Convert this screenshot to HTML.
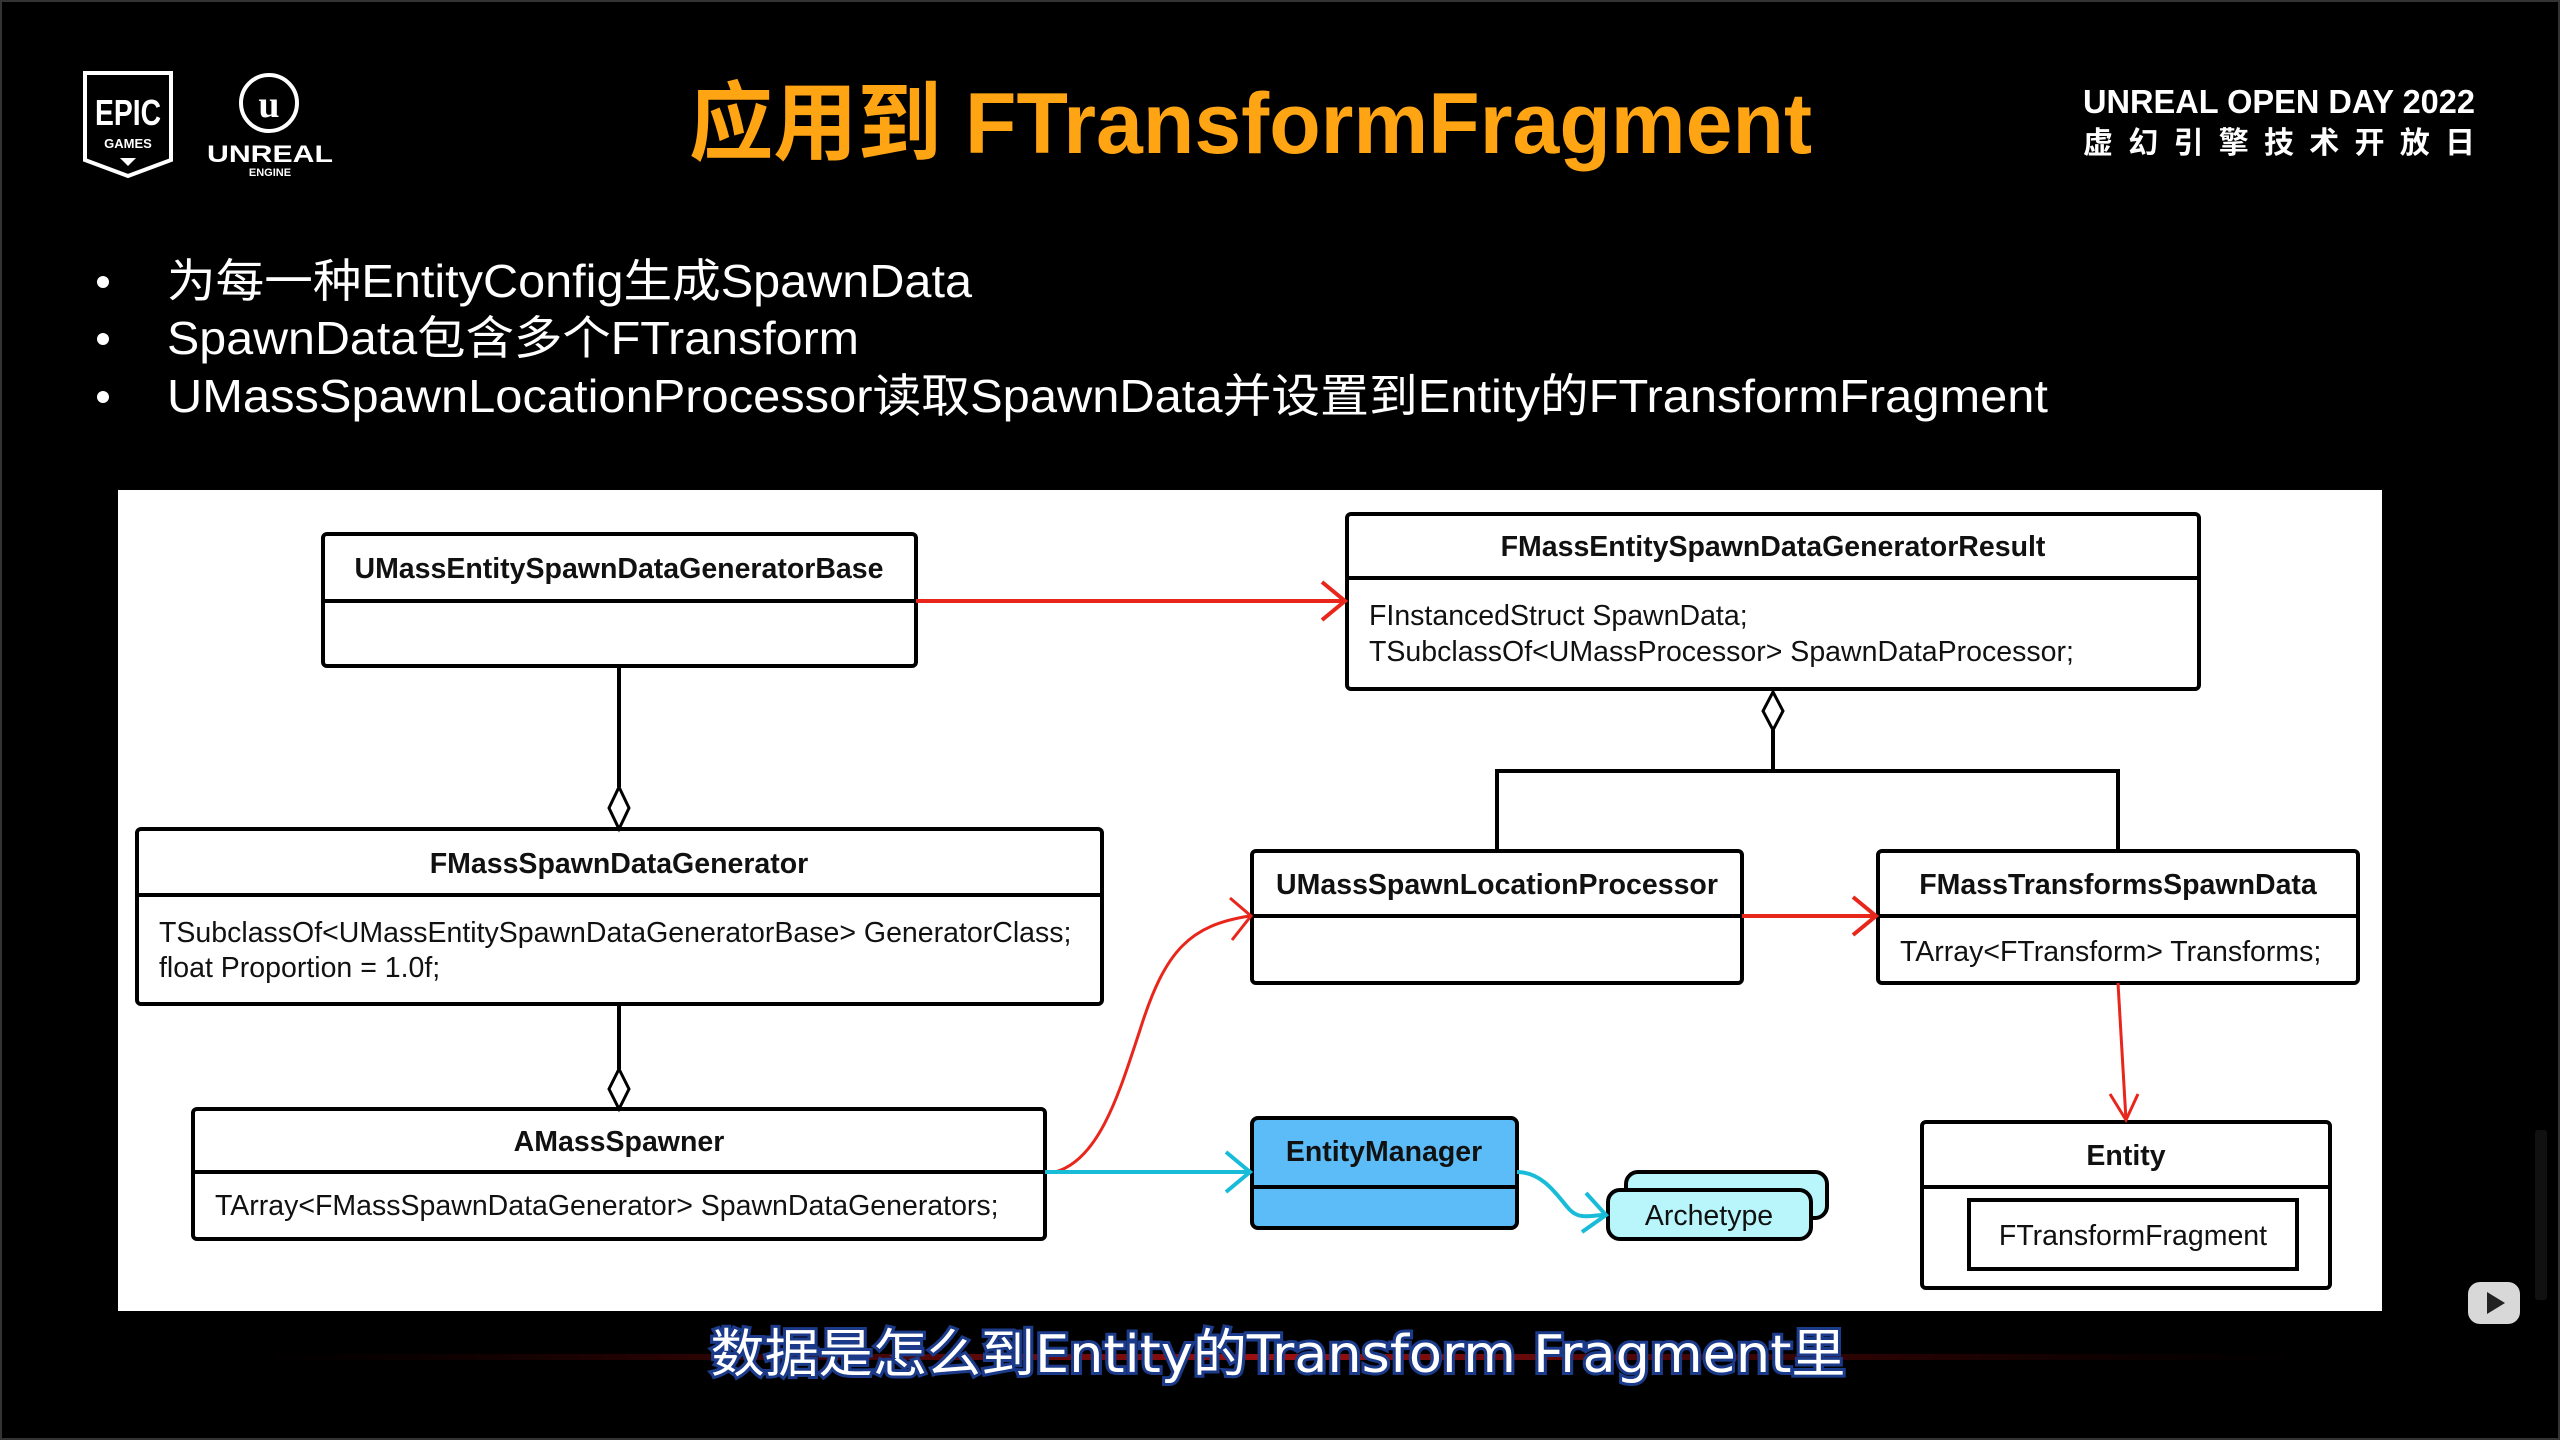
<!DOCTYPE html>
<html><head><meta charset="utf-8"><style>
html,body{margin:0;padding:0;background:#000;width:2560px;height:1440px;overflow:hidden}
svg{display:block}
</style></head><body>
<svg width="2560" height="1440" viewBox="0 0 2560 1440" xmlns="http://www.w3.org/2000/svg">
<defs>
<linearGradient id="rl" x1="0" x2="1"><stop offset="0" stop-color="#300" stop-opacity="0"/><stop offset="0.5" stop-color="#a01010"/><stop offset="1" stop-color="#300" stop-opacity="0"/></linearGradient>
</defs>
<rect width="2560" height="1440" fill="#000"/>
<rect x="1" y="1" width="2558" height="1438" fill="none" stroke="#333" stroke-width="2"/>
<path d="M85 73 H171 V160 L128 176 L85 160 Z" fill="none" stroke="#fff" stroke-width="4"/>
<text x="128" y="125" fill="#fff" font-family="Liberation Sans, sans-serif" font-weight="bold" font-size="36" text-anchor="middle" textLength="66" lengthAdjust="spacingAndGlyphs">EPIC</text>
<text x="128" y="148" fill="#fff" font-family="Liberation Sans, sans-serif" font-weight="bold" font-size="13" text-anchor="middle">GAMES</text>
<path d="M120 158 L136 158 L128 166 Z" fill="#fff"/>
<circle cx="269" cy="103" r="28" fill="none" stroke="#fff" stroke-width="4"/>
<text x="269" y="117" fill="#fff" font-family="Liberation Serif, serif" font-weight="bold" font-size="38" text-anchor="middle">u</text>
<text x="270" y="162" fill="#fff" font-family="Liberation Sans, sans-serif" font-weight="bold" font-size="24" text-anchor="middle" textLength="126" lengthAdjust="spacingAndGlyphs">UNREAL</text>
<text x="270" y="176" fill="#fff" font-family="Liberation Sans, sans-serif" font-weight="bold" font-size="11" text-anchor="middle">ENGINE</text>
<text x="689" y="153" fill="#ffa412" font-family="Liberation Sans, 'Noto Sans CJK SC', sans-serif" font-weight="bold" font-size="86" textLength="1123" lengthAdjust="spacingAndGlyphs">应用到 FTransformFragment</text>
<text x="2083" y="113" fill="#fff" font-family="Liberation Sans, sans-serif" font-weight="bold" font-size="33" textLength="392" lengthAdjust="spacingAndGlyphs">UNREAL OPEN DAY 2022</text>
<text x="2083" y="153" fill="#fff" font-family="'Noto Sans CJK SC', sans-serif" font-weight="bold" font-size="30" textLength="392" lengthAdjust="spacing">虚幻引擎技术开放日</text>
<g fill="#fff" font-family="Liberation Sans, 'Noto Sans CJK SC', sans-serif" font-size="46">
<circle cx="103" cy="282" r="6"/><circle cx="103" cy="339" r="6"/><circle cx="103" cy="397" r="6"/>
<text x="167" y="297" textLength="805" lengthAdjust="spacingAndGlyphs">为每一种EntityConfig生成SpawnData</text>
<text x="167" y="354" textLength="692" lengthAdjust="spacingAndGlyphs">SpawnData包含多个FTransform</text>
<text x="167" y="412" textLength="1881" lengthAdjust="spacingAndGlyphs">UMassSpawnLocationProcessor读取SpawnData并设置到Entity的FTransformFragment</text>
</g>
<rect x="118" y="490" width="2264" height="821" fill="#fff"/>
<g stroke="#000" stroke-width="4" fill="#fff">
<rect x="323" y="534" width="593" height="132" rx="4"/><line x1="323" y1="601" x2="916" y2="601"/>
<rect x="1347" y="514" width="852" height="175" rx="4"/><line x1="1347" y1="578" x2="2199" y2="578"/>
<rect x="137" y="829" width="965" height="175" rx="4"/><line x1="137" y1="895" x2="1102" y2="895"/>
<rect x="193" y="1109" width="852" height="130" rx="4"/><line x1="193" y1="1172" x2="1045" y2="1172"/>
<rect x="1252" y="851" width="490" height="132" rx="4"/><line x1="1252" y1="916" x2="1742" y2="916"/>
<rect x="1878" y="851" width="480" height="132" rx="4"/><line x1="1878" y1="916" x2="2358" y2="916"/>
<rect x="1252" y="1118" width="265" height="110" rx="6" fill="#5cbcf8"/><line x1="1252" y1="1187" x2="1517" y2="1187"/>
<rect x="1626" y="1172" width="201" height="46" rx="12" fill="#b8f6fc"/>
<rect x="1608" y="1190" width="203" height="49" rx="12" fill="#b8f6fc"/>
<rect x="1922" y="1122" width="408" height="166" rx="4"/><line x1="1922" y1="1187" x2="2330" y2="1187"/>
<rect x="1969" y="1200" width="328" height="69"/>
<line x1="619" y1="666" x2="619" y2="787" fill="none"/>
<line x1="619" y1="1004" x2="619" y2="1069" fill="none"/>
<polyline points="1773,730 1773,771 1497,771 1497,851" fill="none"/>
<polyline points="1773,771 2118,771 2118,851" fill="none"/>
</g>
<g stroke="#000" stroke-width="3" fill="#fff">
<path d="M619 787 L629 808 L619 829 L609 808 Z"/>
<path d="M619 1069 L629 1089 L619 1109 L609 1089 Z"/>
<path d="M1773 692 L1783 711 L1773 730 L1763 711 Z"/>
</g>
<g stroke="#e8261c" fill="none">
<line x1="916" y1="601" x2="1345" y2="601" stroke-width="4"/>
<polyline points="1322,582 1345,601 1322,620" stroke-width="4"/>
<line x1="1742" y1="916" x2="1876" y2="916" stroke-width="4"/>
<polyline points="1853,897 1876,916 1853,935" stroke-width="4"/>
<path d="M2118 983 L2126 1120" stroke-width="3"/>
<polyline points="2110,1094 2126,1120 2138,1094" stroke-width="3"/>
<path d="M1055 1172 C1100 1160 1120 1090 1140 1030 C1165 950 1190 925 1250 916" stroke-width="3"/>
<polyline points="1230,898 1251,916 1232,940" stroke-width="3"/>
</g>
<g stroke="#18bcd8" fill="none" stroke-width="4">
<line x1="1045" y1="1172" x2="1250" y2="1172"/>
<polyline points="1226,1152 1250,1172 1226,1192"/>
<path d="M1517 1172 C1545 1172 1560 1200 1570 1210 C1580 1220 1590 1215 1606 1215"/>
<polyline points="1586,1193 1606,1215 1582,1232"/>
</g>
<g font-family="Liberation Sans, sans-serif" font-size="28.5" fill="#111">
<g font-weight="bold" text-anchor="middle">
<text x="619" y="578">UMassEntitySpawnDataGeneratorBase</text>
<text x="1773" y="556">FMassEntitySpawnDataGeneratorResult</text>
<text x="619" y="873">FMassSpawnDataGenerator</text>
<text x="619" y="1151">AMassSpawner</text>
<text x="1497" y="894">UMassSpawnLocationProcessor</text>
<text x="2118" y="894">FMassTransformsSpawnData</text>
<text x="1384" y="1161">EntityManager</text>
<text x="2126" y="1165">Entity</text>
</g>
<text x="1369" y="625">FInstancedStruct SpawnData;</text>
<text x="1369" y="661">TSubclassOf&lt;UMassProcessor&gt; SpawnDataProcessor;</text>
<text x="159" y="942">TSubclassOf&lt;UMassEntitySpawnDataGeneratorBase&gt; GeneratorClass;</text>
<text x="159" y="977">float Proportion = 1.0f;</text>
<text x="215" y="1215">TArray&lt;FMassSpawnDataGenerator&gt; SpawnDataGenerators;</text>
<text x="1900" y="961">TArray&lt;FTransform&gt; Transforms;</text>
<text x="1709" y="1225" text-anchor="middle">Archetype</text>
<text x="2133" y="1245" text-anchor="middle">FTransformFragment</text>
</g>
<rect x="250" y="1354" width="2060" height="6" fill="url(#rl)"/>
<text x="1278" y="1372" text-anchor="middle" fill="#fff" stroke="#1b3a8a" stroke-width="6" paint-order="stroke" font-family="'DejaVu Sans', 'Noto Sans CJK SC', sans-serif" font-size="52" textLength="1135" lengthAdjust="spacingAndGlyphs">数据是怎么到Entity的Transform Fragment里</text>
<rect x="2468" y="1282" width="52" height="42" rx="12" fill="#d8d8d8"/>
<path d="M2487 1292 L2505 1303 L2487 1314 Z" fill="#222"/>
<rect x="2535" y="1130" width="12" height="170" rx="3" fill="#111"/>
</svg>
</body></html>
